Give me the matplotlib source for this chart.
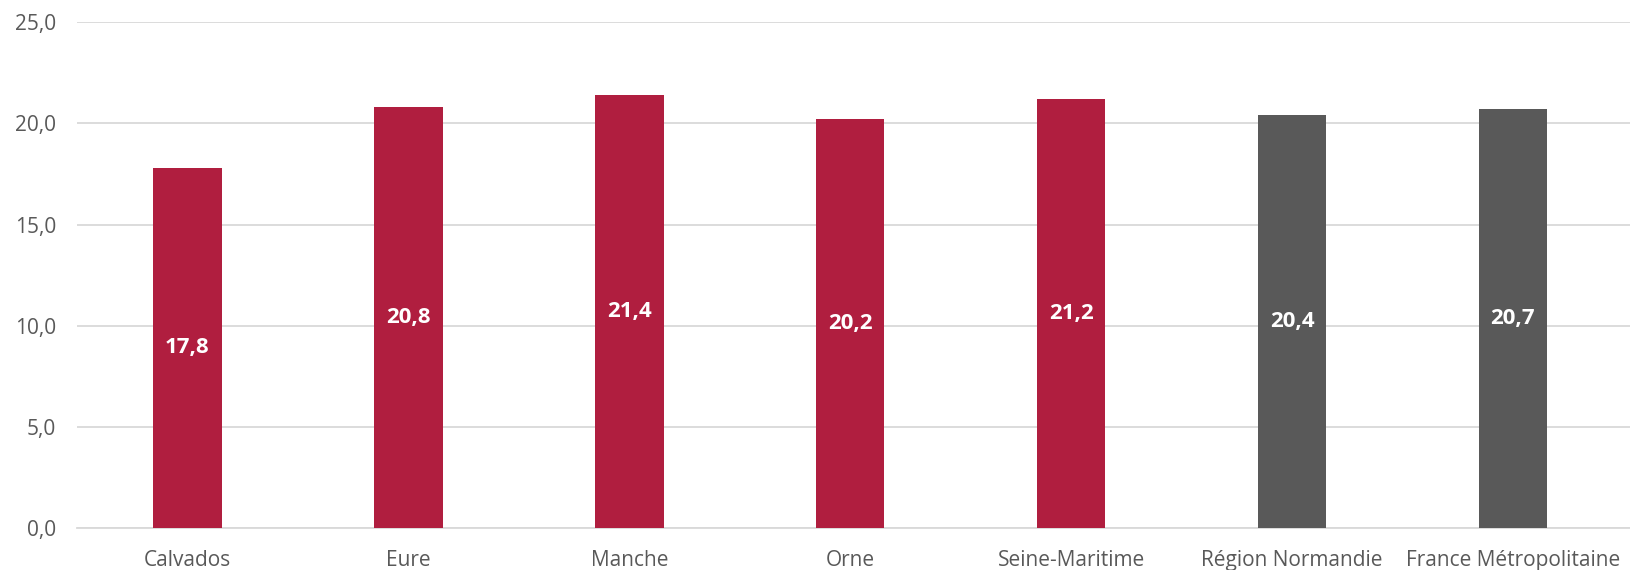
import numpy as np
import matplotlib.pyplot as plt

categories = ['Calvados', 'Eure', 'Manche', 'Orne', 'Seine-Maritime',
              'Région Normandie', 'France Métropolitaine']
values = [17.8, 20.8, 21.4, 20.2, 21.2, 20.4, 20.7]
bar_colors = ['#B01E3F'] * 5 + ['#595959'] * 2
yticks = [0, 5, 10, 15, 20, 25]

plt.rcParams['font.family'] = ['Open Sans', 'DejaVu Sans']

fig = plt.figure(figsize=(16.3, 5.7), dpi=100)
ax = fig.add_axes([77 / 1630, 1 - 528 / 570, 1 - 77 / 1630, (528 - 22.3) / 570])

x = np.arange(len(categories))
bars = ax.bar(x, values, width=0.31, color=bar_colors, zorder=3)

# Value labels centred in each bar
for xi, v in zip(x, values):
    ax.text(xi, v / 2, f'{v:.1f}'.replace('.', ','), ha='center', va='center',
            color='white', fontsize=16, fontweight='bold', zorder=4)

ax.set_xlim(-0.5, 6.53)
ax.set_ylim(0, 25)
ax.set_yticks(yticks)
ax.set_yticklabels([f'{t:.1f}'.replace('.', ',') for t in yticks])
ax.set_xticks(x)
ax.set_xticklabels(categories)

ax.tick_params(axis='both', length=0, labelsize=15, colors='#595959')
ax.tick_params(axis='y', pad=15)
ax.tick_params(axis='x', pad=16)
ax.grid(True, axis='y', color='#D9D9D9', linewidth=1.3, zorder=0)
for side in ['top', 'right', 'left']:
    ax.spines[side].set_visible(False)
ax.spines['bottom'].set_color('#D9D9D9')
ax.spines['bottom'].set_linewidth(1.3)

fig.savefig('out.png', dpi=100)
